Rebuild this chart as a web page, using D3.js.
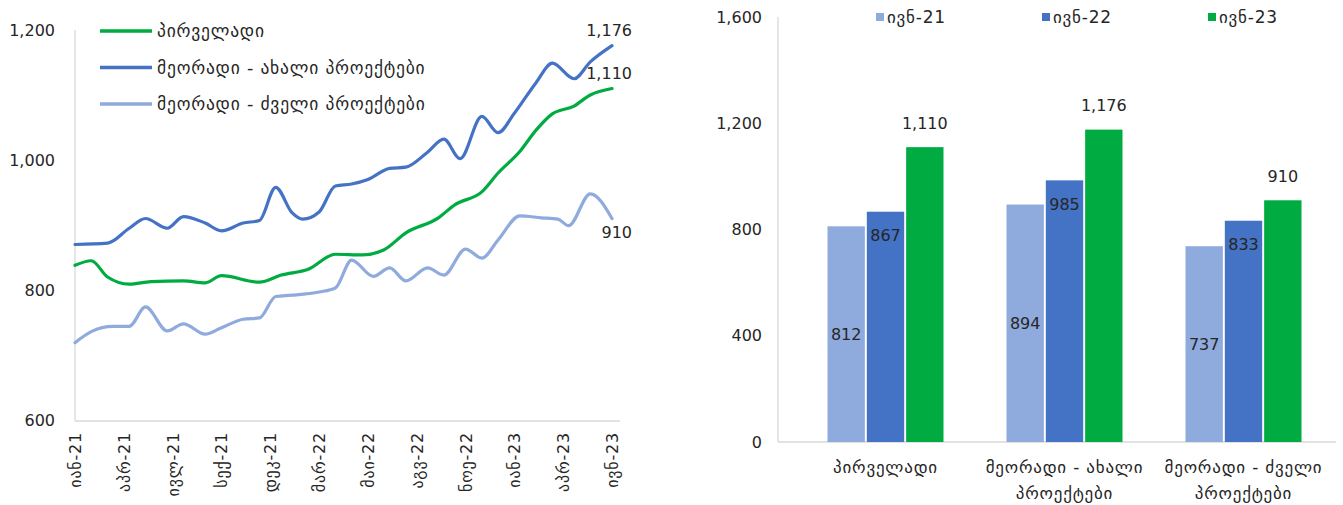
<!DOCTYPE html>
<html><head><meta charset="utf-8">
<script src="https://cdn.jsdelivr.net/npm/d3@7"></script>
<style>
html,body{margin:0;padding:0;background:#fff;}
svg{display:block;font-family:"DejaVu Sans",sans-serif;}
.geo{letter-spacing:0.8px;}
</style></head><body>
<svg id="c" width="1343" height="505"></svg>
<script>
// ---------- Left chart data ----------
const lineTickLabels = ["იან-21","აპრ-21","ივლ-21","სექ-21","დეკ-21","მარ-22","მაი-22","აგვ-22","ნოე-22","იან-23","აპრ-23","ივნ-23"];
const seriesNames = ["პირველადი","მეორადი - ახალი პროექტები","მეორადი - ძველი პროექტები"];
const primaryWeeks = [0,3,6,10,14,20,24,27,34,38,43,48,53,57,61,67,70,75,78,82,85,88,92,95,99];
const primaryValues = [838,845,820,809,813,814,811,822,812,823,832,855,854,862,888,911,931,951,980,1013,1046,1071,1083,1100,1110];
const newWeeks = [0,6,10,13,17,20,24,27,31,34,37,40,42,45,48,51,54,58,61,65,68,71,75,78,81,85,88,92,95,99];
const newValues = [870,872,895,910,895,913,903,891,903,907,958,919,909,920,960,963,970,987,989,1012,1032,1002,1067,1042,1072,1119,1149,1125,1151,1176];
const oldWeeks = [0,3,7,10,13,17,20,24,27,31,34,37,40,45,48,51,55,58,61,65,68,72,75,78,82,86,89,91,95,99];
const oldValues = [719,736,744,744,774,737,748,732,742,755,757,790,792,797,803,846,821,834,814,834,823,863,849,877,914,911,909,899,948,910];
const lineYTicks = [600,800,1000,1200];

// ---------- Right chart data ----------
const barCategories = [["პირველადი"],["მეორადი - ახალი","პროექტები"],["მეორადი - ძველი","პროექტები"]];
const barYears = ["ივნ-21","ივნ-22","ივნ-23"];
const jun21 = [812,894,737];
const jun22 = [867,985,833];
const jun23 = [1110,1176,910];
const barYTicks = [0,400,800,1200,1600];

const colors = {green:"#00AC41", blue:"#4472C4", light:"#8FAADC"};
const txt = "#262626";
const fmt = d3.format(",");
const svg = d3.select("#c");

// ===== Left chart =====
const lx = d3.scaleLinear().domain([0,99]).range([75,612]);
const ly = d3.scaleLinear().domain([600,1200]).range([420,30]);
const L = svg.append("g");
L.append("line").attr("x1",lx(0)).attr("x2",lx(0)).attr("y1",ly(1200)).attr("y2",ly(600)+1).attr("stroke","#d9d9d9").attr("stroke-width",1.3);
L.append("line").attr("x1",lx(0)).attr("x2",lx(99)+8).attr("y1",ly(600)+1).attr("y2",ly(600)+1).attr("stroke","#d9d9d9").attr("stroke-width",1.3);
L.selectAll(".ly").data(lineYTicks).join("text")
  .attr("x",55).attr("y",d=>ly(d)).attr("dy","0.35em").attr("text-anchor","end")
  .attr("font-size",16).attr("fill",txt).text(d=>fmt(d));
const tickWeeks = lineTickLabels.map((d,i)=>i*9);
L.selectAll(".lx").data(lineTickLabels).join("text").attr("class","geo")
  .attr("transform",(d,i)=>`translate(${lx(tickWeeks[i])+6},432) rotate(-90)`)
  .attr("text-anchor","end").attr("font-size",16).attr("fill",txt).text(d=>d);

const lineSeries = [
  {name:seriesNames[2], w:oldWeeks, v:oldValues, c:colors.light},
  {name:seriesNames[0], w:primaryWeeks, v:primaryValues, c:colors.green},
  {name:seriesNames[1], w:newWeeks, v:newValues, c:colors.blue}
];
const lineGen = d3.line().x(d=>lx(d[0])).y(d=>ly(d[1])).curve(d3.curveMonotoneX);
lineSeries.forEach(s=>{
  L.append("path").datum(s.w.map((w,i)=>[w,s.v[i]]))
   .attr("d",lineGen).attr("fill","none").attr("stroke",s.c).attr("stroke-width",3.2)
   .attr("stroke-linecap","round").attr("stroke-linejoin","round");
});
const endLabels = [
  {v:newValues[newValues.length-1], y:30},
  {v:primaryValues[primaryValues.length-1], y:73},
  {v:oldValues[oldValues.length-1], y:232}
];
L.selectAll(".el").data(endLabels).join("text")
  .attr("x",lx(99)+20).attr("y",d=>d.y).attr("dy","0.35em").attr("text-anchor","end")
  .attr("font-size",16).attr("fill",txt).text(d=>fmt(d.v));
const legItems = [
  {name:seriesNames[0], c:colors.green},
  {name:seriesNames[1], c:colors.blue},
  {name:seriesNames[2], c:colors.light}
];
const lg = L.selectAll(".lg").data(legItems).join("g").attr("transform",(d,i)=>`translate(100,${31+i*36.5})`);
lg.append("line").attr("x1",0).attr("x2",52).attr("stroke",d=>d.c).attr("stroke-width",3.5);
lg.append("text").attr("class","geo").attr("x",57).attr("dy","0.35em").attr("font-size",17.5).attr("fill",txt).text(d=>d.name);

// ===== Right chart =====
const bx = d3.scaleBand().domain(d3.range(barCategories.length)).range([796,1333]).paddingInner(0).paddingOuter(0);
const bSub = d3.scaleBand().domain(barYears).range([0,116]).paddingInner(0.05);
const by = d3.scaleLinear().domain([0,1600]).range([442,17]);
const R = svg.append("g");
R.append("line").attr("x1",778).attr("x2",778).attr("y1",by(1600)).attr("y2",by(0)).attr("stroke","#d9d9d9").attr("stroke-width",1.3);
R.append("line").attr("x1",778).attr("x2",1336).attr("y1",by(0)).attr("y2",by(0)).attr("stroke","#d9d9d9").attr("stroke-width",1.3);
R.selectAll(".ry").data(barYTicks).join("text")
  .attr("x",762).attr("y",d=>by(d)).attr("dy","0.35em").attr("text-anchor","end")
  .attr("font-size",16).attr("fill",txt).text(d=>fmt(d));
const barSeries = [
  {year:barYears[0], vals:jun21, c:colors.light, pos:"center"},
  {year:barYears[1], vals:jun22, c:colors.blue, pos:"insideEnd"},
  {year:barYears[2], vals:jun23, c:colors.green, pos:"outsideEnd"}
];
barSeries.forEach(s=>{
  const g = R.append("g");
  s.vals.forEach((v,i)=>{
    const x0 = bx(i) + bx.bandwidth()/2 - 58 + bSub(s.year);
    g.append("rect").attr("x",x0).attr("y",by(v)).attr("width",bSub.bandwidth()).attr("height",by(0)-by(v)).attr("fill",s.c);
    let ty;
    if(s.pos==="center") ty=(by(v)+by(0))/2;
    else if(s.pos==="insideEnd") ty=by(v)+24;
    else ty=by(v)-24;
    g.append("text").attr("x",x0+bSub.bandwidth()/2).attr("y",ty).attr("dy","0.35em")
      .attr("text-anchor","middle").attr("font-size",16).attr("fill",txt).text(fmt(v));
  });
});
barCategories.forEach((lines,i)=>{
  const t = R.append("text").attr("class","geo").attr("text-anchor","middle").attr("font-size",17).attr("fill",txt);
  lines.forEach((ln,j)=>{
    t.append("tspan").attr("x",bx(i)+bx.bandwidth()/2).attr("y",467+j*26).attr("dy","0.35em").text(ln);
  });
});
const rl = R.selectAll(".rl").data(barSeries).join("g").attr("transform",(d,i)=>`translate(${876+i*166},17)`);
rl.append("rect").attr("x",0).attr("y",-4).attr("width",8).attr("height",8).attr("fill",d=>d.c);
rl.append("text").attr("class","geo").attr("x",11).attr("dy","0.35em").attr("font-size",17).attr("fill",txt).text(d=>d.year);
</script>
</body></html>
